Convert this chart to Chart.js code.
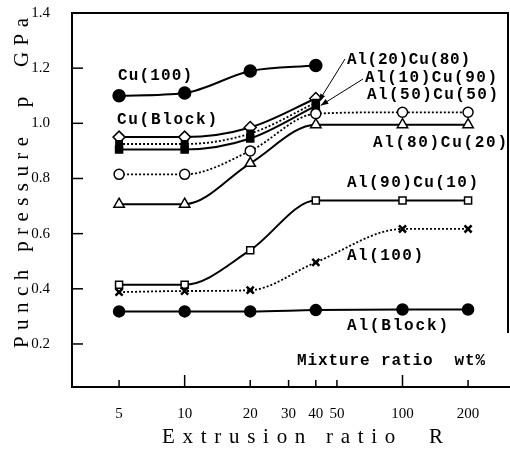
<!DOCTYPE html>
<html>
<head>
<meta charset="utf-8">
<script src="https://cdn.jsdelivr.net/npm/chart.js@4"></script>
<style>
    body { margin: 0; background: #fff; }
    #wrap { width: 510px; height: 450px; }
</style>
</head>
<body>
<div id="wrap"><canvas id="punchChart" width="510" height="450"></canvas></div>
<script>
// Extrusion ratio R (x) and punch pressure p in GPa (y)
const ratios = [5, 10, 20, 40, 100, 200];
const xTickVals = [5, 10, 20, 30, 40, 50, 100, 200];
const yTickVals = [0.2, 0.4, 0.6, 0.8, 1.0, 1.2, 1.4];

const cu100 = [1.10, 1.11, 1.19, 1.21];
const cuBlock = [0.95, 0.95, 0.985, 1.09];
const al20cu80 = [0.925, 0.925, 0.963, 1.075];
const al10cu90 = [0.905, 0.905, 0.945, 1.063];
const al50cu50 = [0.815, 0.815, 0.90, 1.035, 1.04, 1.04];
const al80cu20 = [0.707, 0.707, 0.855, 0.995, 0.995, 0.995];
const al90cu10 = [0.415, 0.415, 0.54, 0.72, 0.72, 0.72];
const al100 = [0.388, 0.392, 0.395, 0.496, 0.617, 0.617];
const alBlock = [0.318, 0.318, 0.318, 0.323, 0.325, 0.325];

// text labels placed on the plot (left x, middle y, width in px)
const plotLabels = [
    ['Cu(100)', 118, 76, 74],
    ['Cu(Block)', 117, 120, 100],
    ['Al(20)Cu(80)', 347, 60, 123],
    ['Al(10)Cu(90)', 365, 78, 132],
    ['Al(50)Cu(50)', 367, 95, 131],
    ['Al(80)Cu(20)', 373, 143, 134],
    ['Al(90)Cu(10)', 347, 183, 131],
    ['Al(100)', 347, 256, 76],
    ['Al(Block)', 347, 326, 101],
    ['Mixture ratio  wt%', 297, 361, 188]
];

function toPoints(values) {
    return values.map((v, i) => ({ x: ratios[i], y: v }));
}

function series(label, values, opts) {
    return Object.assign({
        label: label,
        data: toPoints(values),
        borderColor: '#000',
        borderWidth: 2,
        pointBorderColor: '#000',
        pointBorderWidth: 1.5,
        cubicInterpolationMode: 'monotone',
        fill: false
    }, opts);
}

// draw text stretched to a given width with letter spacing
function fitText(ctx, text, x, y, width) {
    ctx.letterSpacing = '0px';
    const w = ctx.measureText(text).width;
    const sp = (width - w) / Math.max(text.length - 1, 1);
    ctx.letterSpacing = sp + 'px';
    ctx.fillText(text, x, y);
    ctx.letterSpacing = '0px';
}

function arrow(ctx, x1, y1, x2, y2) {
    const ang = Math.atan2(y2 - y1, x2 - x1);
    ctx.beginPath();
    ctx.moveTo(x1, y1);
    ctx.lineTo(x2, y2);
    ctx.stroke();
    ctx.beginPath();
    ctx.moveTo(x2, y2);
    ctx.lineTo(x2 - 8 * Math.cos(ang - 0.35), y2 - 8 * Math.sin(ang - 0.35));
    ctx.lineTo(x2 - 8 * Math.cos(ang + 0.35), y2 - 8 * Math.sin(ang + 0.35));
    ctx.closePath();
    ctx.fill();
}

const decorPlugin = {
    id: 'decorPlugin',
    afterDraw: function(chart) {
        const ctx = chart.ctx;
        const area = chart.chartArea;
        const xs = chart.scales.x;
        const ys = chart.scales.y;

        ctx.save();
        ctx.strokeStyle = '#000';
        ctx.fillStyle = '#000';
        ctx.lineWidth = 2;

        // top and right frame (right side fades out near the bottom in the original)
        ctx.beginPath();
        ctx.moveTo(area.left, area.top);
        ctx.lineTo(area.right, area.top);
        ctx.lineTo(area.right, ys.getPixelForValue(0.24));
        ctx.stroke();

        // x axis line runs on to the page edge
        ctx.beginPath();
        ctx.moveTo(area.right, area.bottom);
        ctx.lineTo(chart.width, area.bottom);
        ctx.stroke();

        // inward tick marks
        ctx.lineWidth = 1.5;
        yTickVals.forEach(v => {
            const py = ys.getPixelForValue(v);
            ctx.beginPath();
            ctx.moveTo(area.left, py);
            ctx.lineTo(area.left + 11, py);
            ctx.stroke();
        });
        xTickVals.forEach(v => {
            const px = xs.getPixelForValue(v);
            const len = (v === 10 || v === 100) ? 12 : 7;
            ctx.beginPath();
            ctx.moveTo(px, area.bottom);
            ctx.lineTo(px, area.bottom - len);
            ctx.stroke();
        });

        // axis titles
        ctx.font = '21px "Liberation Serif"';
        ctx.textBaseline = 'middle';
        ctx.textAlign = 'left';
        fitText(ctx, 'Extrusion ratio  R', 162, 437, 281);
        ctx.save();
        ctx.translate(22, 348);
        ctx.rotate(-Math.PI / 2);
        fitText(ctx, 'Punch pressure  p  GPa', 0, 0, 330);
        ctx.restore();

        // series labels
        ctx.font = 'bold 16px "Liberation Mono"';
        plotLabels.forEach(l => fitText(ctx, l[0], l[1], l[2], l[3]));

        // arrows pointing at the x=40 points of Al(20)Cu(80) and Al(10)Cu(90)
        ctx.lineWidth = 1;
        const tipX = xs.getPixelForValue(40) + 3;
        arrow(ctx, 345, 59, tipX, ys.getPixelForValue(1.08));
        arrow(ctx, 363, 79, tipX + 2, ys.getPixelForValue(1.065));

        ctx.restore();
    }
};

const ctx = document.getElementById('punchChart').getContext('2d');
const config = {
    type: 'line',
    data: {
        datasets: [
            series('Al(Block)', alBlock, { pointStyle: 'circle', pointRadius: 5.5, pointBackgroundColor: '#000' }),
            series('Al(100)', al100, { pointStyle: 'crossRot', pointRadius: 5, pointBorderWidth: 2.5, borderDash: [2, 2], borderWidth: 1.8 }),
            series('Al(90)Cu(10)', al90cu10, { pointStyle: 'rect', pointRadius: 5, pointBackgroundColor: '#fff' }),
            series('Al(80)Cu(20)', al80cu20, { pointStyle: 'triangle', pointRadius: 6, pointBackgroundColor: '#fff' }),
            series('Al(50)Cu(50)', al50cu50, { pointStyle: 'circle', pointRadius: 5, pointBackgroundColor: '#fff', borderDash: [2, 2], borderWidth: 1.8 }),
            series('Al(10)Cu(90)', al10cu90, { pointStyle: 'rect', pointRadius: 5, pointBackgroundColor: '#000' }),
            series('Al(20)Cu(80)', al20cu80, { pointStyle: 'rect', pointRadius: 4.5, pointBackgroundColor: '#000', borderDash: [2, 2], borderWidth: 1.8 }),
            series('Cu(Block)', cuBlock, { pointStyle: 'rectRot', pointRadius: 6, pointBackgroundColor: '#fff' }),
            series('Cu(100)', cu100, { pointStyle: 'circle', pointRadius: 6, pointBackgroundColor: '#000' })
        ]
    },
    options: {
        responsive: false,
        animation: false,
        layout: {
            autoPadding: false,
            padding: { top: 13, right: 2, left: 0, bottom: 0 }
        },
        scales: {
            x: {
                type: 'logarithmic',
                min: 3.04,
                max: 305,
                afterBuildTicks: function(scale) {
                    scale.ticks = xTickVals.map(v => ({ value: v }));
                },
                afterFit: function(scale) {
                    scale.height = 63;
                    scale.paddingLeft = 0;
                    scale.paddingRight = 0;
                },
                ticks: {
                    autoSkip: false,
                    maxRotation: 0,
                    padding: 10,
                    color: '#000',
                    font: { family: 'Liberation Serif', size: 15 },
                    callback: function(value) { return String(value); }
                },
                grid: { display: false },
                border: { display: true, color: '#000', width: 2 },
                title: { display: false }
            },
            y: {
                type: 'linear',
                min: 0.044,
                max: 1.4,
                afterBuildTicks: function(scale) {
                    scale.ticks = yTickVals.map(v => ({ value: v }));
                },
                afterFit: function(scale) {
                    scale.width = 72;
                    scale.paddingTop = 0;
                    scale.paddingBottom = 0;
                },
                ticks: {
                    padding: 14,
                    color: '#000',
                    font: { family: 'Liberation Serif', size: 15 },
                    callback: function(value) { return value.toFixed(1); }
                },
                grid: { display: false },
                border: { display: true, color: '#000', width: 2 },
                title: { display: false }
            }
        },
        plugins: {
            legend: { display: false },
            tooltip: { enabled: false }
        }
    },
    plugins: [decorPlugin]
};

new Chart(ctx, config);
</script>
</body>
</html>
